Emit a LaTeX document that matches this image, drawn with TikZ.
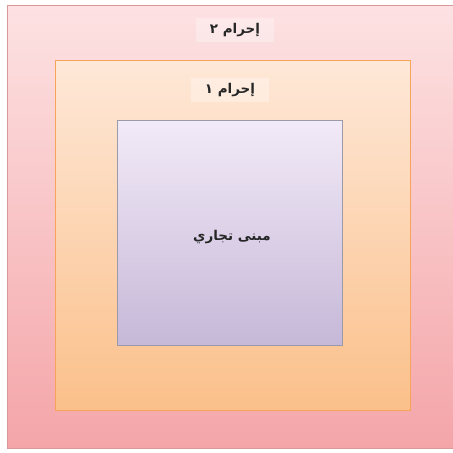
\documentclass[tikz,border=0pt]{standalone}
\usepackage{fontspec}
\newfontfamily\arabicfont[Script=Arabic]{DejaVu Sans}
\TeXXeTstate=1
\definecolor{frameA}{HTML}{D9999B}
\definecolor{frameB}{HTML}{F7A35A}
\definecolor{frameC}{HTML}{9C9AA8}
\definecolor{pinkTop}{HTML}{FDE2E3}
\definecolor{pinkBot}{HTML}{F4A5A8}
\definecolor{peachTop}{HTML}{FEE8D8}
\definecolor{peachBot}{HTML}{FBC08A}
\definecolor{lilacTop}{HTML}{F2EAF7}
\definecolor{lilacBot}{HTML}{C6B8D8}
\tikzset{
  zone/.style={draw,line width=0.8pt,anchor=north west,inner sep=0pt},
  tag/.style={font=\arabicfont\bfseries\fontsize{11.5}{13}\selectfont,text=black!85,inner sep=3pt},
  tagbox/.style={tag,fill=white,fill opacity=0.3,text opacity=1,minimum width=78*0.03cm,minimum height=24*0.03cm}
}
\begin{document}
\begin{tikzpicture}[x=0.03cm,y=-0.03cm]
  \useasboundingbox[fill=white] (0,0) rectangle (453,453);
  \node[zone,draw=frameA,top color=pinkTop,bottom color=pinkBot,minimum width=446*0.03cm,minimum height=443*0.03cm] (haram2) at (7,5) {};
  \node[zone,draw=frameB,top color=peachTop,bottom color=peachBot,minimum width=355*0.03cm,minimum height=350*0.03cm] (haram1) at (55,60) {};
  \node[zone,draw=frameC,top color=lilacTop,bottom color=lilacBot,minimum width=225*0.03cm,minimum height=225*0.03cm] (bldg) at (117,120) {};
  \node[tagbox] (t2) at (235,30) {\beginR إحرام ٢\endR};
  \node[tagbox] (t1) at (230,90) {\beginR إحرام ١\endR};
  \node[tag] (t0) at (232,237) {\beginR مبنى تجاري\endR};
\end{tikzpicture}
\end{document}
